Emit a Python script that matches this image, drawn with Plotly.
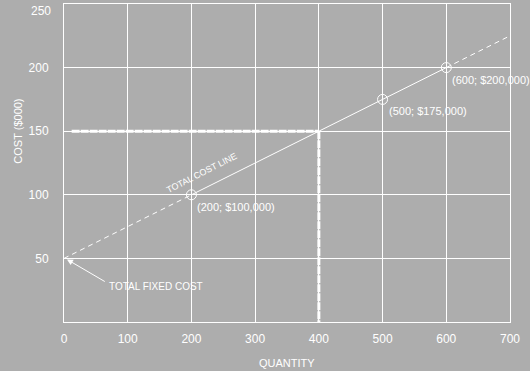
import plotly.graph_objects as go

# Data
qty = [0, 200, 500, 600, 700]
cost = [50, 100, 175, 200, 225]
marked_qty = [200, 500, 600]
marked_cost = [100, 175, 200]
marked_labels = ["(200; $100,000)", "(500; $175,000)", "(600; $200,000)"]
ref_qty = 400
ref_cost = 150
x_ticks = [0, 100, 200, 300, 400, 500, 600, 700]
y_ticks = [50, 100, 150, 200, 250]

BG = "#adadad"
W = "white"
FONT = "Liberation Sans, Arial, sans-serif"

fig = go.Figure()

# dashed start segment
fig.add_trace(go.Scatter(x=qty[0:2], y=cost[0:2], mode="lines",
                         line=dict(color=W, width=1, dash="5px,4px"), hoverinfo="skip"))
# solid middle
fig.add_trace(go.Scatter(x=qty[1:4], y=cost[1:4], mode="lines",
                         line=dict(color=W, width=1), hoverinfo="skip"))
# dashed end
fig.add_trace(go.Scatter(x=qty[3:5], y=cost[3:5], mode="lines",
                         line=dict(color=W, width=1, dash="5px,4px"), hoverinfo="skip"))
# reference lines
fig.add_trace(go.Scatter(x=[12, ref_qty], y=[ref_cost, ref_cost], mode="lines",
                         line=dict(color=W, width=3, dash="8px,1px"), hoverinfo="skip"))
fig.add_trace(go.Scatter(x=[ref_qty, ref_qty], y=[ref_cost, 0], mode="lines",
                         line=dict(color=W, width=3, dash="8px,1px"), hoverinfo="skip"))
# markers
fig.add_trace(go.Scatter(x=marked_qty, y=marked_cost, mode="markers",
                         marker=dict(symbol="circle-open", size=10, color=W, line=dict(width=1)),
                         hoverinfo="skip"))

for xq, yc, lab in zip(marked_qty, marked_cost, marked_labels):
    fig.add_annotation(x=xq, y=yc, text=lab, showarrow=False, xanchor="left", yanchor="top",
                       xshift=4, yshift=-4, font=dict(color=W, size=11, family=FONT))

fig.add_annotation(x=216, y=117, text="TOTAL COST LINE", showarrow=False, textangle=-27,
                   xanchor="center", yanchor="middle", font=dict(color=W, size=9, family=FONT))

fig.add_annotation(x=2, y=50, ax=41, ay=24, axref="pixel", ayref="pixel",
                   text="", showarrow=True, arrowhead=2, arrowsize=1.2, arrowwidth=1,
                   arrowcolor=W, standoff=2)
fig.add_annotation(x=67, y=28, text="TOTAL FIXED COST", showarrow=False, xanchor="left",
                   yanchor="middle", font=dict(color=W, size=10, family=FONT))

fig.add_annotation(xref="paper", yref="paper", x=-0.12, y=0.6, text="COST ($000)",
                   textangle=-90, showarrow=False, font=dict(color=W, size=11, family=FONT))
fig.add_annotation(xref="paper", yref="paper", x=0.5, y=-0.105, yanchor="top",
                   text="QUANTITY", showarrow=False, font=dict(color=W, size=11, family=FONT))

# top y tick label (kept inside the page)
fig.add_annotation(xref="paper", yref="y", x=0, y=y_ticks[-1], text=str(y_ticks[-1]),
                   showarrow=False, xanchor="right", yanchor="top", xshift=-11, yshift=2,
                   font=dict(color=W, size=12, family=FONT))

fig.update_layout(
    width=530, height=371, paper_bgcolor=BG, plot_bgcolor=BG,
    margin=dict(l=64, r=20, t=4, b=49, autoexpand=False), showlegend=False,
    font=dict(family=FONT, color=W, size=12),
)
fig.update_xaxes(range=[0, 700], tickvals=x_ticks, showgrid=True, gridcolor=W, gridwidth=1,
                 zeroline=False, showline=True, linecolor=W, linewidth=1, mirror=True,
                 ticks="", ticklabelstandoff=6, ticklabeloverflow="allow", automargin=False,
                 tickfont=dict(color=W, size=12))
fig.update_yaxes(range=[0, 250], tickvals=y_ticks[:-1], showgrid=True, gridcolor=W, gridwidth=1,
                 zeroline=False, showline=True, linecolor=W, linewidth=1, mirror=True,
                 ticks="", ticklabelstandoff=12, ticklabeloverflow="allow", automargin=False,
                 tickfont=dict(color=W, size=12))

fig.write_html("out.html")
